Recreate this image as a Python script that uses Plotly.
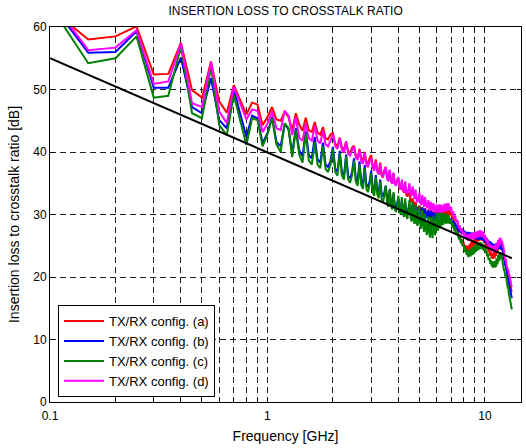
import plotly.graph_objects as go

# Frequency grid of the measurement: 0.05 GHz steps from 0.1 GHz
f_start_ghz = 0.1
f_step_ghz = 0.05

config_a = [63.0, 58.0, 58.5, 60.1, 52.4, 52.5, 57.5, 49.9, 48.7, 54.5, 48.1, 46.3, 50.7, 48.3, 46.0, 47.9, 47.6, 44.3, 45.6, 47.2, 45.2, 45.0, 46.4, 45.6, 43.5, 46.2, 44.4, 43.4,
    45.5, 43.5, 43.2, 44.8, 43.1, 42.8, 44.0, 42.2, 42.0, 42.8, 43.0, 41.3, 41.0, 42.3, 40.7, 40.4, 41.7, 40.1, 39.9, 40.7,
    41.0, 39.4, 39.1, 40.5, 39.0, 38.7, 40.0, 38.4, 38.2, 39.0, 39.5, 37.8, 37.5, 38.8, 37.1, 36.8, 38.3, 36.5, 36.3, 37.1,
    37.6, 36.0, 35.7, 37.1, 35.5, 35.2, 36.6, 35.0, 34.8, 35.6, 35.8, 34.3, 34.0, 35.2, 33.8, 33.5, 34.4, 33.1, 32.9, 33.5,
    33.3, 32.2, 31.9, 32.6, 31.5, 31.2, 32.0, 31.0, 30.8, 31.3, 31.4, 30.5, 30.2, 31.2, 30.3, 30.0, 31.0, 30.0, 29.8, 30.3,
    30.8, 29.9, 29.6, 30.7, 29.8, 29.5, 30.5, 29.6, 29.4, 29.9, 30.5, 29.6, 29.3, 30.5, 29.6, 29.3, 30.6, 29.6, 29.4, 29.9,
    30.8, 29.9, 29.6, 31.0, 30.1, 29.8, 31.0, 30.1, 29.9, 30.3, 30.4, 29.5, 29.3, 29.6, 28.8, 28.5, 28.7, 27.9, 27.6, 27.9,
    27.6, 26.8, 26.5, 26.8, 26.0, 25.8, 26.1, 25.3, 25.1, 25.4, 25.4, 24.6, 24.4, 25.1, 24.3, 24.1, 25.0, 24.2, 24.0, 24.5,
    25.3, 24.5, 24.2, 25.6, 24.8, 24.5, 26.0, 25.1, 24.9, 25.4, 26.4, 25.6, 25.3, 26.8, 25.9, 25.6, 27.0, 26.0, 25.8, 26.3,
    27.1, 26.2, 25.9, 27.0, 26.1, 25.8, 26.7, 25.7, 25.5, 25.9, 26.2, 25.3, 25.0, 25.6, 24.7, 24.5, 25.0, 24.2, 24.0, 24.3,
    24.4, 23.6, 23.4, 24.0, 23.2, 23.0, 23.8, 23.1, 22.9, 23.3, 24.0, 23.2, 23.0, 24.4, 23.6, 23.4, 24.9, 24.0, 23.8, 24.3,
    25.5, 24.7, 24.4, 25.8, 25.0, 24.7, 26.0, 25.1, 24.9, 25.0, 25.2, 24.3, 24.0, 24.0, 23.1, 22.8, 23.0, 22.1, 21.8, 21.9,
    21.8, 20.9, 20.7, 20.9, 20.1, 19.9, 20.2, 19.4, 19.2, 19.3, 19.2, 18.5, 18.3, 18.5, 17.9, 17.8, 17.6]

config_b = [64.0, 55.9, 56.0, 59.3, 50.3, 50.3, 55.1, 47.2, 46.2, 51.8, 45.1, 43.8, 50.0, 46.2, 42.4, 45.8, 45.4, 41.4, 43.0, 45.6, 41.6, 40.9, 44.5, 43.6, 39.8, 43.8, 40.3, 39.3,
    43.3, 39.5, 39.0, 42.4, 38.8, 38.3, 41.5, 38.0, 37.6, 38.6, 40.8, 37.3, 36.9, 40.2, 36.7, 36.3, 39.6, 36.2, 35.8, 36.8,
    39.0, 35.7, 35.3, 38.5, 35.3, 34.9, 37.9, 34.8, 34.4, 35.3, 37.0, 34.2, 33.8, 36.3, 33.8, 33.4, 35.6, 33.3, 32.9, 33.6,
    34.6, 32.6, 32.2, 34.0, 32.0, 31.6, 33.3, 31.5, 31.1, 31.8, 32.6, 31.0, 30.7, 32.3, 30.8, 30.5, 32.0, 30.6, 30.3, 30.9,
    31.8, 30.4, 30.1, 31.6, 30.3, 30.0, 31.4, 30.1, 29.8, 30.4, 31.3, 30.0, 29.7, 31.1, 29.9, 29.6, 30.9, 29.8, 29.5, 30.0,
    30.7, 29.6, 29.3, 30.6, 29.5, 29.2, 30.4, 29.3, 29.0, 29.6, 30.3, 29.2, 28.9, 30.3, 29.2, 28.9, 30.2, 29.2, 28.9, 29.4,
    30.1, 29.1, 28.8, 30.0, 29.1, 28.8, 29.8, 28.9, 28.6, 29.0, 29.4, 28.5, 28.2, 29.0, 28.2, 27.9, 28.7, 27.9, 27.6, 27.9,
    28.3, 27.5, 27.2, 28.0, 27.3, 27.0, 27.8, 27.1, 26.8, 27.1, 27.5, 26.8, 26.5, 27.3, 26.6, 26.3, 27.2, 26.5, 26.2, 26.6,
    27.2, 26.5, 26.2, 27.1, 26.4, 26.1, 27.1, 26.4, 26.1, 26.5, 27.0, 26.3, 26.0, 27.0, 26.3, 26.0, 27.0, 26.3, 26.0, 26.4,
    27.0, 26.3, 26.0, 26.9, 26.2, 25.9, 26.7, 26.0, 25.7, 26.0, 26.5, 25.8, 25.5, 26.2, 25.5, 25.2, 26.0, 25.3, 25.0, 25.3,
    25.8, 25.1, 24.8, 25.6, 24.9, 24.6, 25.4, 24.8, 24.5, 24.8, 25.3, 24.7, 24.4, 25.3, 24.7, 24.4, 25.4, 24.7, 24.4, 24.8,
    25.5, 24.8, 24.5, 25.5, 24.8, 24.5, 25.4, 24.7, 24.4, 24.5, 24.8, 24.1, 23.8, 23.9, 23.2, 22.9, 22.9, 22.2, 21.9, 22.0,
    21.9, 21.2, 20.9, 20.8, 20.1, 19.8, 19.9, 19.2, 18.9, 19.0, 18.5, 17.9, 17.6, 17.6, 17.1, 16.9, 16.6]

config_c = [63.5, 54.2, 55.0, 58.5, 48.7, 49.0, 56.9, 46.2, 45.4, 53.6, 44.3, 42.7, 49.1, 45.1, 41.1, 45.4, 45.1, 40.9, 42.8, 45.4, 41.2, 40.0, 44.6, 43.8, 39.2, 43.5, 39.6, 38.3,
    43.0, 38.6, 38.0, 41.6, 38.0, 37.4, 40.9, 37.3, 36.8, 38.0, 40.5, 36.8, 36.2, 39.8, 36.2, 35.6, 39.3, 35.6, 35.1, 36.3,
    38.6, 35.2, 34.6, 38.0, 34.7, 34.1, 37.4, 34.1, 33.6, 34.8, 36.6, 33.6, 33.0, 36.0, 33.2, 32.6, 35.3, 32.5, 32.0, 33.1,
    34.6, 31.8, 31.2, 34.1, 31.4, 30.8, 33.6, 30.9, 30.4, 31.5, 33.0, 30.6, 30.0, 32.8, 30.2, 29.6, 32.6, 29.8, 29.3, 30.5,
    32.4, 29.5, 28.9, 32.0, 29.1, 28.5, 31.6, 28.7, 28.2, 29.4, 31.3, 28.3, 27.7, 30.7, 27.8, 27.2, 30.1, 27.2, 26.7, 27.9,
    29.7, 26.9, 26.3, 29.6, 26.8, 26.2, 29.8, 27.2, 26.7, 27.8, 30.2, 28.0, 27.4, 30.3, 28.4, 27.9, 30.3, 28.7, 28.3, 29.0,
    30.2, 28.9, 28.5, 30.1, 29.0, 28.6, 29.9, 28.9, 28.5, 28.9, 29.2, 28.3, 27.9, 28.6, 27.7, 27.3, 28.0, 27.1, 26.7, 27.0,
    27.2, 26.4, 26.0, 26.6, 25.8, 25.4, 26.0, 25.2, 24.9, 25.1, 25.1, 24.4, 24.0, 24.6, 23.9, 23.5, 24.3, 23.6, 23.2, 23.5,
    24.4, 23.7, 23.3, 24.6, 23.9, 23.5, 24.8, 24.1, 23.7, 24.0, 25.1, 24.4, 24.0, 25.3, 24.6, 24.2, 25.5, 24.8, 24.4, 24.7,
    25.6, 24.9, 24.5, 25.5, 24.8, 24.4, 25.3, 24.6, 24.2, 24.5, 25.0, 24.2, 23.8, 24.4, 23.7, 23.3, 23.8, 23.1, 22.7, 22.9,
    23.1, 22.5, 22.1, 22.7, 22.1, 21.7, 22.5, 21.9, 21.5, 21.8, 22.5, 21.9, 21.5, 22.6, 22.0, 21.6, 23.0, 22.4, 22.0, 22.3,
    23.5, 22.9, 22.5, 23.8, 23.2, 22.8, 24.0, 23.4, 23.0, 23.1, 23.2, 22.4, 22.0, 22.2, 21.4, 21.0, 21.2, 20.4, 20.1, 20.2,
    20.3, 19.6, 19.3, 19.2, 18.5, 18.2, 18.3, 17.6, 17.3, 17.3, 16.8, 16.2, 15.9, 15.8, 15.3, 15.1, 14.8]

config_d = [64.5, 56.3, 56.7, 59.5, 50.9, 51.3, 57.3, 47.8, 47.2, 54.4, 46.5, 44.6, 50.4, 47.8, 45.2, 46.8, 46.6, 43.2, 44.5, 46.5, 43.8, 43.5, 46.6, 45.8, 42.7, 45.6, 42.3, 41.8,
    44.5, 42.2, 41.8, 44.2, 41.8, 41.4, 43.4, 41.2, 40.9, 41.8, 42.8, 40.9, 40.5, 42.2, 40.3, 39.9, 41.6, 39.7, 39.4, 40.3,
    40.9, 39.1, 38.7, 40.3, 38.5, 38.1, 39.8, 37.9, 37.6, 38.5, 39.0, 37.4, 37.0, 38.5, 36.8, 36.4, 38.1, 36.2, 35.9, 36.8,
    37.6, 35.7, 35.3, 37.2, 35.3, 34.9, 36.7, 34.9, 34.6, 35.4, 36.0, 34.4, 34.0, 35.6, 34.0, 33.6, 35.3, 33.6, 33.3, 34.1,
    35.0, 33.3, 32.9, 34.5, 32.9, 32.5, 34.0, 32.3, 32.0, 32.7, 33.5, 31.9, 31.5, 33.1, 31.6, 31.2, 32.8, 31.3, 31.0, 31.6,
    32.3, 31.0, 30.7, 32.0, 30.9, 30.6, 31.8, 30.7, 30.4, 30.9, 31.6, 30.6, 30.3, 31.6, 30.6, 30.3, 31.6, 30.7, 30.4, 30.9,
    31.7, 30.8, 30.5, 31.8, 30.9, 30.6, 31.8, 30.9, 30.6, 31.0, 31.2, 30.3, 30.0, 30.5, 29.6, 29.3, 29.8, 29.0, 28.7, 29.1,
    28.9, 28.1, 27.8, 28.3, 27.6, 27.3, 27.8, 27.1, 26.8, 27.1, 27.3, 26.6, 26.3, 27.0, 26.3, 26.0, 26.8, 26.1, 25.8, 26.2,
    26.9, 26.2, 25.9, 27.0, 26.3, 26.0, 27.1, 26.4, 26.1, 26.5, 27.2, 26.5, 26.2, 27.3, 26.6, 26.3, 27.4, 26.7, 26.4, 26.8,
    27.5, 26.8, 26.5, 27.4, 26.7, 26.4, 27.2, 26.5, 26.2, 26.5, 26.8, 26.1, 25.8, 26.4, 25.7, 25.4, 25.9, 25.2, 24.9, 25.2,
    25.4, 24.7, 24.4, 25.1, 24.4, 24.1, 25.0, 24.3, 24.0, 24.4, 25.0, 24.3, 24.0, 25.2, 24.5, 24.2, 25.5, 24.8, 24.5, 24.9,
    25.9, 25.2, 24.9, 26.2, 25.5, 25.2, 26.3, 25.6, 25.3, 25.4, 25.8, 25.0, 24.7, 25.0, 24.1, 23.8, 24.0, 23.1, 22.8, 22.9,
    22.9, 22.1, 21.8, 22.0, 21.3, 21.0, 21.3, 20.6, 20.3, 20.4, 20.2, 19.6, 19.3, 19.3, 18.8, 18.6, 18.4]

# Reference (limit) line end points
limit_f = [0.1, 13.3]
limit_db = [55.0, 23.0]

series_names = ["TX/RX config. (a)", "TX/RX config. (b)", "TX/RX config. (c)", "TX/RX config. (d)"]
series_colors = ["#ff0000", "#0000ff", "#008000", "#ff00ff"]

x_tick_vals = [0.1, 0.2, 0.3, 0.4, 0.5, 0.6, 0.7, 0.8, 0.9, 1, 2, 3, 4, 5, 6, 7, 8, 9, 10]
x_tick_text = ["0.1", "", "", "", "", "", "", "", "", "1", "", "", "", "", "", "", "", "", "10"]


def freq_axis(n):
    return [round(f_start_ghz + f_step_ghz * i, 2) for i in range(n)]


fig = go.Figure()
for vals, name, col in zip([config_a, config_b, config_c, config_d], series_names, series_colors):
    fig.add_trace(go.Scatter(x=freq_axis(len(vals)), y=vals, mode="lines", name=name,
                             line=dict(color=col, width=2)))
fig.add_trace(go.Scatter(x=limit_f, y=limit_db, mode="lines", showlegend=False,
                         line=dict(color="black", width=2)))

font_fam = "Liberation Sans, Arial, Helvetica, sans-serif"
grid_style = dict(showgrid=True, gridcolor="#222222", gridwidth=1, griddash="6px,4px")

fig.update_layout(
    width=526, height=448,
    margin=dict(l=50, r=5, t=27, b=46),
    paper_bgcolor="white", plot_bgcolor="white",
    font=dict(family=font_fam, size=12, color="black"),
    title=dict(text="INSERTION LOSS TO CROSSTALK RATIO", x=0.543, xanchor="center",
               y=0.976, yanchor="middle", font=dict(size=12)),
    xaxis=dict(type="log", range=[-1, 1.166], tickvals=x_tick_vals, ticktext=x_tick_text,
               ticks="inside", ticklen=4, tickcolor="black", showline=True, linecolor="black",
               linewidth=1, mirror="ticks", zeroline=False, ticklabelstandoff=3,
               title=dict(text="Frequency [GHz]", standoff=8), **grid_style),
    yaxis=dict(range=[0, 60], dtick=10, ticks="inside", ticklen=4, tickcolor="black",
               showline=True, linecolor="black", linewidth=1, mirror="ticks", zeroline=False,
               title=dict(text="Insertion loss to crosstalk ratio [dB]", standoff=10), **grid_style),
    legend=dict(x=0.017, y=0.013, xanchor="left", yanchor="bottom", bgcolor="white",
                bordercolor="black", borderwidth=1, font=dict(size=13), itemwidth=40,
                tracegroupgap=0),
    showlegend=True,
)

fig.write_html("out.html")
